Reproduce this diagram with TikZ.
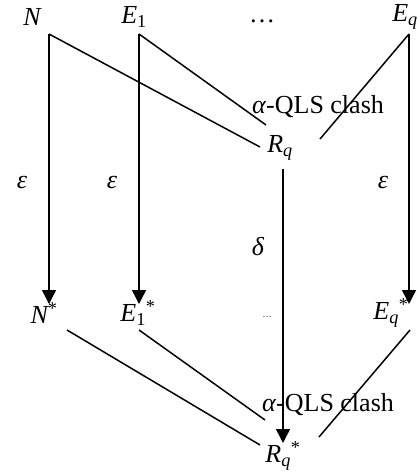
\documentclass[tikz,border=0pt]{standalone}
\usepackage{fontspec}
\setmainfont{Liberation Serif}
\usetikzlibrary{arrows.meta}
\begin{document}
\begin{tikzpicture}[x=1pt,y=-1pt,
  lbl/.style={font=\fontsize{26}{30}\selectfont\itshape, inner sep=0pt},
  txt/.style={font=\fontsize{26}{30}\selectfont, inner sep=0pt},
  ln/.style={line width=1.5pt},
  arr/.style={ln,-{Triangle[width=14pt,length=14pt]}}]
\useasboundingbox (0,0) rectangle (416,476);
% top labels
\node[lbl] (N) at (32,17) {N};
\node[lbl] (E1) at (134,17) {E\textsubscript{\upshape 1}};
\node[txt] (tdots) at (262,21) {\ldots};
\node[lbl] (Eq) at (405,17) {E\textsubscript{q}};
\coordinate (nc) at (49,34);
\coordinate (e1c) at (139,34);
\coordinate (eqc) at (409,34);
% middle top
\node[txt] (clashA) at (318,107) {\textit{α}-QLS clash};
\node[lbl] (Rq) at (280,148) {R\textsubscript{q}};
\coordinate (rqN) at (260,147);
\coordinate (rqE) at (266,125);
\coordinate (rqQ) at (320,139);
\coordinate (rqB) at (283,169);
% bottom labels
\node[lbl] (Ns) at (44,313) {N\textsuperscript{\upshape *}};
\node[lbl] (E1s) at (138,313) {E\textsubscript{\upshape 1}\textsuperscript{\upshape *}};
\node[txt,font=\fontsize{9}{10}\selectfont] (bdots) at (267,317) {\ldots};
\node[lbl] (Eqs) at (391,313) {E\textsubscript{q}\textsuperscript{\upshape *}};
\coordinate (nst) at (49,304);
\coordinate (e1st) at (139,304);
\coordinate (eqst) at (409,304);
\coordinate (nsc) at (67,330);
\coordinate (e1sc) at (139,330);
\coordinate (eqsc) at (410,330);
% bottom middle
\node[txt] (clashB) at (328,405) {\textit{α}-QLS clash};
\node[lbl] (Rqs) at (283,456) {R\textsubscript{q}\textsuperscript{\upshape *}};
\coordinate (rqsN) at (260,445);
\coordinate (rqsE) at (265,420);
\coordinate (rqsQ) at (319,437);
\coordinate (rqsT) at (283,443);
% greek labels
\node[lbl] (eps1) at (22,183) {ε};
\node[lbl] (eps2) at (112,183) {ε};
\node[lbl] (eps3) at (383,182) {ε};
\node[lbl] (del) at (258,247) {δ};
% lines
\draw[ln] (nc) -- (rqN);
\draw[ln] (e1c) -- (rqE);
\draw[ln] (eqc) -- (rqQ);
\draw[arr] (nc) -- (nst);
\draw[arr] (e1c) -- (e1st);
\draw[arr] (eqc) -- (eqst);
\draw[arr] (rqB) -- (rqsT);
\draw[ln] (nsc) -- (rqsN);
\draw[ln] (e1sc) -- (rqsE);
\draw[ln] (eqsc) -- (rqsQ);
\end{tikzpicture}
\end{document}
